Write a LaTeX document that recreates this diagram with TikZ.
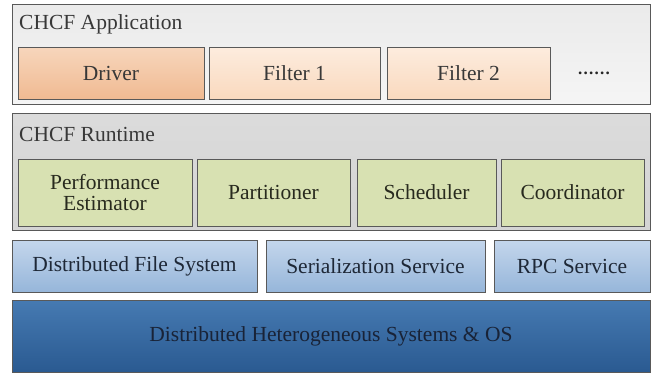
\documentclass[tikz,border=0pt]{standalone}
\usepackage{fontspec}
\setmainfont{Liberation Serif}
\tikzset{
  box/.style={draw=black!65, line width=0.9pt, inner sep=0pt, anchor=center, text=black!78,
    font=\fontsize{21.5}{23}\selectfont, align=center},
  appouter/.style={box, top color=black!8, bottom color=black!4},
  rtouter/.style={box, top color=black!14, bottom color=black!17},
  driverbox/.style={box, top color={rgb,255:red,247;green,214;blue,188}, bottom color={rgb,255:red,240;green,186;blue,146}},
  filterbox/.style={box, top color={rgb,255:red,253;green,236;blue,222}, bottom color={rgb,255:red,249;green,217;blue,190}},
  greenbox/.style={box, fill={rgb,255:red,216;green,225;blue,178}, text={rgb,255:red,40;green,42;blue,30}},
  lbluebox/.style={box, top color={rgb,255:red,196;green,214;blue,236}, bottom color={rgb,255:red,150;green,182;blue,218}, text={rgb,255:red,30;green,40;blue,55}},
  dbluebox/.style={box, top color={rgb,255:red,70;green,122;blue,178}, bottom color={rgb,255:red,42;green,90;blue,145}, text={rgb,255:red,25;green,35;blue,55}},
  title/.style={anchor=west, inner sep=0pt, text=black!78, font=\fontsize{21.5}{23}\selectfont}
}
\begin{document}
\begin{tikzpicture}[x=1pt,y=-1pt]
\useasboundingbox[fill=white] (0,0) rectangle (657,384);
% Application layer
\node[appouter, minimum width=638pt, minimum height=100pt] (app) at (331,54) {};
\node[title] (apptitle) at (19,24) {CHCF Application};
\node[driverbox, minimum width=186pt, minimum height=52pt] (driver) at (111,73) {Driver};
\node[filterbox, minimum width=171pt, minimum height=52pt] (f1) at (294.5,73) {Filter 1};
\node[filterbox, minimum width=163pt, minimum height=52pt] (f2) at (468.5,73) {Filter 2};
\node[inner sep=0pt, anchor=base, text=black!85, font=\fontsize{17}{18}\bfseries] (dots) at (594,74) {.\kern1.3pt.\kern1.3pt.\kern1.3pt.\kern1.3pt.\kern1.3pt.};
% Runtime layer
\node[rtouter, minimum width=638pt, minimum height=117pt] (rt) at (331,171.5) {};
\node[title] (rttitle) at (19,134) {CHCF Runtime};
\node[greenbox, minimum width=174pt, minimum height=67pt] (pe) at (105,192.5) {Performance\\[-2pt]Estimator};
\node[greenbox, minimum width=153pt, minimum height=67pt] (part) at (273.5,192.5) {Partitioner};
\node[greenbox, minimum width=139pt, minimum height=67pt] (sched) at (426.5,192.5) {Scheduler};
\node[greenbox, minimum width=143pt, minimum height=67pt] (coord) at (572.5,192.5) {Coordinator};
% Services
\node[lbluebox, minimum width=245pt, minimum height=52pt] (dfs) at (134.5,266) {Distributed File System};
\node[lbluebox, minimum width=219pt, minimum height=52pt] (ser) at (375.5,266) {Serialization Service};
\node[lbluebox, minimum width=156pt, minimum height=52pt] (rpc) at (572,266) {RPC Service};
% OS
\node[dbluebox, minimum width=638pt, minimum height=72pt] (os) at (331,336) {Distributed Heterogeneous Systems \& OS};
\end{tikzpicture}
\end{document}
